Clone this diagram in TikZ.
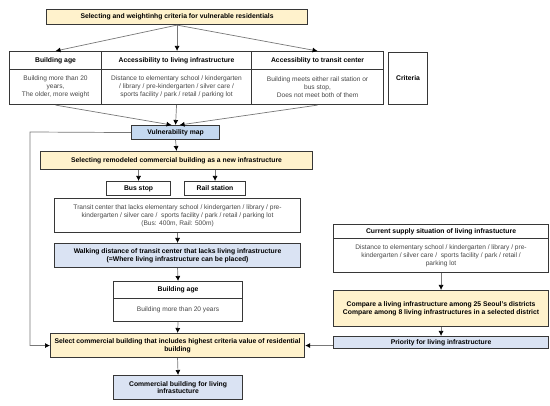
\documentclass[tikz,border=0pt]{standalone}
\usepackage{fontspec}
\setmainfont{Liberation Sans}
\usepackage{tikz}
\usetikzlibrary{positioning,arrows.meta}
\definecolor{boxline}{RGB}{55,55,55}
\definecolor{conline}{RGB}{120,120,120}
\definecolor{bodytext}{RGB}{70,70,70}
\definecolor{yel}{RGB}{255,242,204}
\definecolor{blu}{RGB}{218,227,243}
\definecolor{bluvuln}{RGB}{197,217,240}

\begin{document}
\begin{tikzpicture}[x=1pt,y=-1pt,
            box/.style={rectangle, draw=boxline, line width=1.1pt, anchor=north west,
                   inner sep=1pt, align=center, font=\fontsize{6.6}{7.8}\selectfont},
            headbox/.style={box, font=\fontsize{6.8}{7.8}\selectfont\bfseries},
            bodybox/.style={box, text=bodytext},
            yelbox/.style={headbox, fill=yel},
            blubox/.style={headbox, fill=blu},
            arrow/.style={-{Latex[length=5pt,width=5pt,color=black]}, draw=conline, line width=0.7pt}
        ]
            \useasboundingbox (0,0) rectangle (550,406);

            % criteria
            \node [yelbox, minimum width=261pt, minimum height=15pt] (Top) at (46,9) {Selecting and weightinhg criteria for vulnerable residentials};
            \node [headbox, minimum width=92pt, minimum height=18pt] (AgeHead) at (9,51) {Building age};
            \node [bodybox, minimum width=92pt, minimum height=35pt] (AgeBody) at (9,69) {Building more than 20\\years,\\The older, more weight};
            \node [headbox, minimum width=150pt, minimum height=18pt] (AccHead) at (101,51) {Accessibility to living infrastructure};
            \node [bodybox, minimum width=150pt, minimum height=35pt] (AccBody) at (101,69) {Distance to elementary school / kindergarten\\/ library / pre-kindergarten / silver care /\\sports facility / park / retail / parking lot};
            \node [headbox, minimum width=132pt, minimum height=18pt] (TransHead) at (251,51) {Accessiblity to transit center};
            \node [bodybox, minimum width=132pt, minimum height=35pt] (TransBody) at (251,69) {Building meets either rail station or\\bus stop,\\Does not meet both of them};
            \node [headbox, minimum width=39pt, minimum height=52pt] (Crit) at (388,52) {Criteria};

            % left chain
            \node [headbox, fill=bluvuln, minimum width=88pt, minimum height=14pt] (Vuln) at (131,125) {Vulnerability map};
            \node [yelbox, minimum width=272pt, minimum height=18pt] (Remod) at (40,151) {Selecting remodeled commercial building as a new infrastructure};
            \node [headbox, minimum width=64pt, minimum height=14pt] (Bus) at (106,181) {Bus stop};
            \node [headbox, minimum width=61pt, minimum height=14pt] (Rail) at (184,181) {Rail station};
            \node [bodybox, minimum width=246pt, minimum height=34pt] (Lack) at (54,198) {Transit center that lacks elementary school / kindergarten / library / pre-\\kindergarten / silver care /\ \ sports facility / park / retail / parking lot\\(Bus: 400m, Rail: 500m)};
            \node [blubox, minimum width=246pt, minimum height=24pt] (Walk) at (54,243) {Walking distance of transit center that lacks living infrastructure\\(=Where living infrastructure can be placed)};
            \node [headbox, minimum width=129pt, minimum height=17pt] (BAHead) at (113,281) {Building age};
            \node [bodybox, minimum width=129pt, minimum height=23pt] (BABody) at (113,298) {Building more than 20 years};
            \node [yelbox, minimum width=254pt, minimum height=24pt] (Sel) at (50,333) {Select commercial building that includes highest criteria value of residential\\building};
            \node [blubox, minimum width=129pt, minimum height=24pt] (Final) at (113,375) {Commercial building for living\\infrastucture};

            % right chain
            \node [headbox, minimum width=215pt, minimum height=14pt] (SupHead) at (333,224) {Current supply situation of living infrastucture};
            \node [bodybox, minimum width=215pt, minimum height=34pt] (SupBody) at (333,238) {Distance to elementary school / kindergarten / library / pre-\\kindergarten / silver care /\ \ sports facility / park / retail /\\parking lot};
            \node [yelbox, minimum width=215pt, minimum height=36pt] (Comp) at (333,290) {Compare a living infrastructure among 25 Seoul's districts\\Compare among 8 living infrastructures in a selected district};
            \node [blubox, minimum width=215pt, minimum height=12pt] (Prio) at (333,336) {Priority for living infrastructure};

            \coordinate (LeftRail) at (30,132);

            % Draw edges
            \draw [arrow] (Top.south) -- (AgeHead.north);
            \draw [arrow] (Top.south) -- (Top.south |- AccHead.north);
            \draw [arrow] (Top.south) -- (TransHead.north);
            \draw [arrow] (AgeBody.south) -- ([xshift=-4pt]Vuln.north);
            \draw [arrow] (AccBody.south) -- (Vuln.north);
            \draw [arrow] (TransBody.south) -- ([xshift=4pt]Vuln.north);
            \draw [arrow] (Vuln.south) -- (Remod.north);
            \draw [arrow] (Remod.south -| Bus.north) -- (Bus.north);
            \draw [arrow] (Remod.south -| Rail.north) -- (Rail.north);
            \draw [arrow] (Lack.south) -- (Walk.north);
            \draw [arrow] (Walk.south) -- (BAHead.north);
            \draw [arrow] (BABody.south) -- (Sel.north);
            \draw [arrow] (Sel.south) -- (Final.north);
            \draw [arrow] (Vuln.west) -- (LeftRail) |- (Sel.west);
            \draw [arrow] (SupBody.south) -- (Comp.north);
            \draw [arrow] (Comp.south) -- (Prio.north);
            \draw [arrow] (Prio.west |- Sel.east) -- (Sel.east);
        \end{tikzpicture}
\end{document}
